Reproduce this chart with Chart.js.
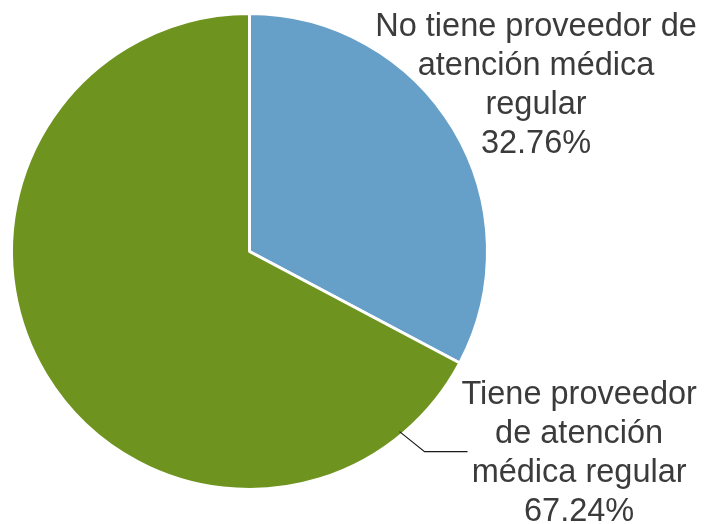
<!DOCTYPE html>
<html>
<head>
<meta charset="utf-8">
<script src="https://cdn.jsdelivr.net/npm/chart.js@4"></script>
<style>
    body { margin: 0; background: #fff; }
    #wrap { width: 713px; height: 524px; }
</style>
</head>
<body>
<div id="wrap"><canvas id="pie-chart"></canvas></div>
<script>
const categories = ["No tiene proveedor de atención médica regular", "Tiene proveedor de atención médica regular"];
const values = [32.76, 67.24];
const colors = ["#66a0c8", "#6f931f"];
// how each label is broken into lines in the picture
const labelLines = [
    ["No tiene proveedor de", "atención médica", "regular"],
    ["Tiene proveedor", "de atención", "médica regular"]
];

const textColor = "#3b3b3b";
const fontSpec = "32.5px 'Liberation Sans', Arial, sans-serif";
const lineHeight = 39;

const pieLabels = {
    id: "pieLabels",
    afterDraw(chart) {
        const ctx = chart.ctx;
        const arc = chart.getDatasetMeta(0).data[0];
        const cx = arc.x, cy = arc.y, r = arc.outerRadius;
        ctx.save();
        ctx.font = fontSpec;
        ctx.fillStyle = textColor;
        ctx.textAlign = "center";
        ctx.textBaseline = "middle";

        // top label, upper right of the blue slice
        const lines0 = labelLines[0].concat([values[0].toFixed(2) + "%"]);
        lines0.forEach((t, i) => ctx.fillText(t, cx + r * 1.204, cy - r * 0.945 + i * lineHeight));

        // bottom label, with leader line into the green slice
        const lines1 = labelLines[1].concat([values[1].toFixed(2) + "%"]);
        lines1.forEach((t, i) => ctx.fillText(t, cx + r * 1.385, cy + r * 0.605 + i * lineHeight));

        const a = 50.2 * Math.PI / 180;
        const sx = cx + Math.cos(a) * r * 0.985;
        const sy = cy + Math.sin(a) * r * 0.985;
        ctx.strokeStyle = "#1a1a1a";
        ctx.lineWidth = 1.2;
        ctx.beginPath();
        ctx.moveTo(sx, sy);
        ctx.lineTo(sx + 25, sy + 20);
        ctx.lineTo(sx + 68, sy + 20);
        ctx.stroke();
        ctx.restore();
    }
};

document.addEventListener("DOMContentLoaded", function () {
    const ctx = document.getElementById("pie-chart").getContext("2d");
    new Chart(ctx, {
        type: "pie",
        data: {
            labels: categories,
            datasets: [{
                data: values,
                backgroundColor: colors,
                borderColor: "#ffffff",
                borderWidth: 3
            }]
        },
        options: {
            responsive: true,
            maintainAspectRatio: false,
            animation: false,
            layout: { padding: { left: 10, top: 12, bottom: 33, right: 224 } },
            plugins: {
                legend: { display: false },
                tooltip: { enabled: false }
            }
        },
        plugins: [pieLabels]
    });
});
</script>
</body>
</html>
